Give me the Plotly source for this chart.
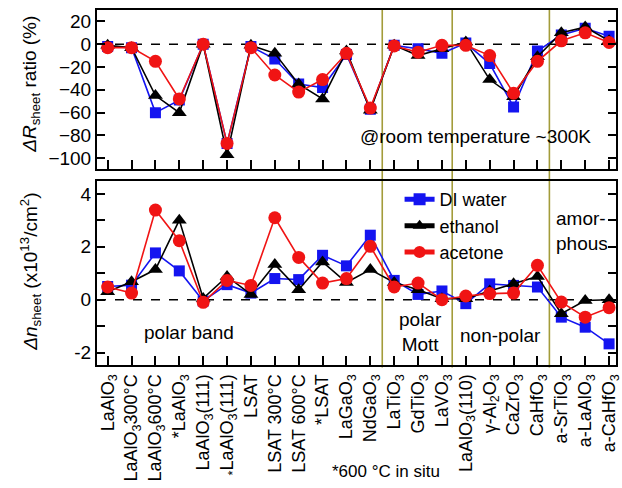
import plotly.graph_objects as go
from plotly.subplots import make_subplots

# Substrate categories (tick labels use HTML sub-scripts)
categories = [
    "LaAlO<sub>3</sub>", "LaAlO<sub>3</sub>300°C", "LaAlO<sub>3</sub>600°C",
    "*LaAlO<sub>3</sub>", "LaAlO<sub>3</sub>(111)", "<sub>*</sub>LaAlO<sub>3</sub>(111)",
    "LSAT", "LSAT 300°C", "LSAT 600°C", "*LSAT", "LaGaO<sub>3</sub>",
    "NdGaO<sub>3</sub>", "LaTiO<sub>3</sub>", "GdTiO<sub>3</sub>", "LaVO<sub>3</sub>",
    "LaAlO<sub>3</sub>(110)", "γ-Al<sub>2</sub>O<sub>3</sub>", "CaZrO<sub>3</sub>",
    "CaHfO<sub>3</sub>", "a-SrTiO<sub>3</sub>", "a-LaAlO<sub>3</sub>", "a-CaHfO<sub>3</sub>",
]

# Sheet-resistance change ratio (%) at room temperature
dR_water = [-2, -3, -60, -49, 0, -87, -2, -13, -35, -38, -9, -57,
            -1, -4, -8, 1, -17, -55, -6, 8, 14, 7]
dR_ethanol = [-1, -3, -45, -60, 0, -97, -1, -8, -35, -48, -6, -58,
              -1, -10, -4, 2, -31, -46, -11, 10, 15, 3]
dR_acetone = [-3, -3, -15, -48, 0, -87, -3, -27, -42, -31, -8, -56,
              -1.5, -7, -1, -1, -10, -43, -15, 3, 10, 1.5]

# Sheet carrier density change (x10^13 /cm^2)
dn_water = [0.5, 0.55, 1.77, 1.09, -0.05, 0.57, 0.25, 0.8, 0.76, 1.68, 1.28, 2.44,
            0.73, 0.2, 0.33, -0.15, 0.6, 0.54, 0.48, -0.66, -1.04, -1.67]
dn_ethanol = [0.3, 0.68, 1.14, 3.01, 0.05, 0.88, 0.2, 1.33, 0.38, 1.43, 0.65, 1.14,
              0.65, 0.38, 0.04, 0.04, 0.33, 0.6, 0.88, -0.53, -0.03, 0.0]
dn_acetone = [0.48, 0.25, 3.39, 2.23, -0.1, 0.73, 0.54, 3.1, 1.6, 0.63, 0.8, 2.02,
              0.48, 0.63, 0.0, 0.14, 0.23, 0.25, 1.3, -0.09, -0.66, -0.3]

series_names = ["DI water", "ethanol", "acetone"]
series_colors = ["#1414f0", "#000000", "#f01414"]
series_symbols = ["square", "triangle-up", "circle"]
series_sizes = [11, 13, 13]

# Group boundaries (between category indices)
group_bounds = [11.5, 14.43, 18.5]

x_idx = list(range(len(categories)))
FONT = "Arial, Liberation Sans, sans-serif"

fig = make_subplots(rows=2, cols=1, shared_xaxes=False, vertical_spacing=0.035)

top_sets = [dR_water, dR_ethanol, dR_acetone]
bot_sets = [dn_water, dn_ethanol, dn_acetone]
for k in range(3):
    style = dict(
        mode="lines+markers",
        line=dict(color=series_colors[k], width=1.6),
        marker=dict(symbol=series_symbols[k], size=series_sizes[k],
                    color=series_colors[k], line=dict(width=0)),
        name=series_names[k],
    )
    fig.add_trace(go.Scatter(x=x_idx, y=top_sets[k], showlegend=False, **style), row=1, col=1)
    fig.add_trace(go.Scatter(x=x_idx, y=bot_sets[k], showlegend=True, **style), row=2, col=1)

xr = [-0.447, 21.29]
axis_common = dict(showline=True, linecolor="black", linewidth=2, showgrid=False,
                   zeroline=False, ticks="inside", tickcolor="black", tickwidth=1.5)

fig.update_xaxes(range=xr, tickvals=x_idx, ticktext=categories, ticklen=9,
                 mirror=True, ticklabeloverflow="allow", **axis_common)
fig.update_xaxes(showticklabels=False, row=1, col=1)
fig.update_xaxes(tickangle=-90, tickfont=dict(family=FONT, size=18, color="black"),
                 row=2, col=1)

fig.update_yaxes(mirror="ticks", ticklen=8, tickfont=dict(family=FONT, size=19, color="black"),
                 **axis_common)
fig.update_yaxes(range=[-109, 30], tickvals=[20, 0, -20, -40, -60, -80, -100],
                 domain=[0.5535, 1.0], row=1, col=1)
fig.update_yaxes(range=[-2.47, 4.49], tickvals=[4, 3, 2, 1, 0, -1, -2],
                 ticktext=["4", "", "2", "", "0", "", "-2"],
                 domain=[0.0, 0.5183], row=2, col=1)

shapes = []
# dashed zero reference lines
for xa, ya in [("x", "y"), ("x2", "y2")]:
    shapes.append(dict(type="line", xref=f"{xa} domain", yref=ya, x0=0, x1=1, y0=0, y1=0,
                       line=dict(color="black", width=1.6, dash="dash"), layer="below"))
# group separators spanning both panels
for b in group_bounds:
    shapes.append(dict(type="line", xref="x", yref="paper", x0=b, x1=b, y0=-0.007, y1=1,
                       line=dict(color="#a39c3a", width=1.6), layer="below"))

txt = dict(family=FONT, size=19, color="black")
annotations = [
    dict(text="<i>ΔR</i><sub>sheet</sub> ratio (%)", xref="paper", yref="paper",
         x=-0.1276, y=0.7915, xanchor="center", yanchor="middle",
         textangle=-90, showarrow=False, font=txt),
    dict(text="<i>Δn</i><sub>sheet</sub> (x10<sup>13</sup>/cm<sup>2</sup>)", xref="paper",
         yref="paper", x=-0.1276, y=0.262, xanchor="center", yanchor="middle",
         textangle=-90, showarrow=False, font=txt),
    dict(text="@room temperature ~300K", xref="x", yref="y", x=15.41, y=-81.3,
         xanchor="center", yanchor="middle", showarrow=False, font=txt),
    dict(text="polar band", xref="x2", yref="y2", x=3.42, y=-1.24,
         xanchor="center", yanchor="middle", showarrow=False, font=txt),
    dict(text="polar<br>Mott", xref="x2", yref="y2", x=13.1, y=-1.22,
         xanchor="center", yanchor="middle", showarrow=False, font=txt),
    dict(text="non-polar", xref="x2", yref="y2", x=16.45, y=-1.36,
         xanchor="center", yanchor="middle", showarrow=False, font=txt),
    dict(text="amor-<br>phous", xref="x2", yref="y2", x=18.71, y=2.59, xanchor="left",
         yanchor="middle", align="left", showarrow=False, font=txt),
    dict(text="*600 °C in situ", xref="x2", yref="paper", x=11.65, y=-0.3006,
         xanchor="center", yanchor="middle", showarrow=False,
         font=dict(family=FONT, size=17, color="black")),
]

fig.update_layout(
    width=622, height=488,
    margin=dict(l=97, r=0, t=10, b=123),
    paper_bgcolor="white", plot_bgcolor="white",
    shapes=shapes, annotations=annotations,
    legend=dict(x=0.583, y=0.518, xanchor="left", yanchor="top",
                bgcolor="rgba(0,0,0,0)", font=dict(family=FONT, size=18, color="black"),
                tracegroupgap=0, itemsizing="constant"),
    font=dict(family=FONT, color="black"),
)

fig.write_html("out.html")
